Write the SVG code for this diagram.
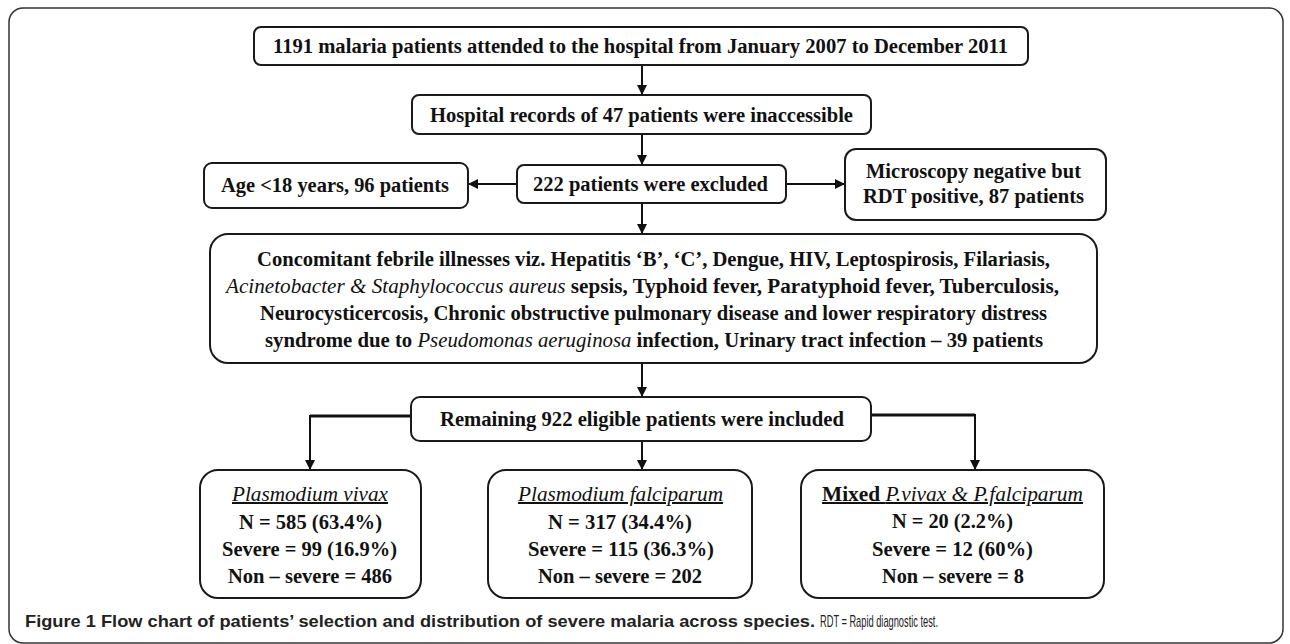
<svg xmlns="http://www.w3.org/2000/svg" width="1290" height="644" viewBox="0 0 1290 644">
<defs>
<marker id="ah" markerWidth="10" markerHeight="10" refX="10" refY="5" orient="auto" markerUnits="userSpaceOnUse">
<path d="M0,0 L10,5 L0,10 z" fill="#111"/>
</marker>
<style>
.box{fill:#fff;stroke:#1a1a1a;stroke-width:2}
.t{font-family:"Liberation Serif","Times New Roman",serif;font-weight:bold;font-size:20px;fill:#111}
.i{font-style:italic;font-weight:normal}
.c{fill:none;stroke:#111;stroke-width:2}
.ch{fill:none;stroke:#111;stroke-width:3}
.cap{font-family:"Liberation Sans",Arial,sans-serif;font-size:17px;fill:#222}
</style>
</defs>
<rect x="9" y="8" width="1274" height="635" rx="14" fill="none" stroke="#333" stroke-width="1.5"/>

<g id="connectors">
<line class="c" x1="642" y1="65" x2="642" y2="95" marker-end="url(#ah)"/>
<line class="c" x1="642" y1="134" x2="642" y2="165" marker-end="url(#ah)"/>
<line class="c" x1="642" y1="203" x2="642" y2="234" marker-end="url(#ah)"/>
<line class="c" x1="517" y1="184" x2="468" y2="184" marker-end="url(#ah)"/>
<line class="c" x1="786" y1="184" x2="845" y2="184" marker-end="url(#ah)"/>
<line class="c" x1="642" y1="363" x2="642" y2="397" marker-end="url(#ah)"/>
<line class="c" x1="642" y1="441" x2="642" y2="470" marker-end="url(#ah)"/>
<polyline class="ch" points="411,416 310,416"/>
<line class="c" x1="310" y1="415" x2="310" y2="470" marker-end="url(#ah)"/>
<polyline class="ch" points="871,415 975,415"/>
<line class="c" x1="975" y1="414" x2="975" y2="470" marker-end="url(#ah)"/>
</g>

<g id="n1">
<rect class="box" x="254" y="27" width="774" height="38" rx="7"/>
<text class="t" x="273" y="53" textLength="735" lengthAdjust="spacingAndGlyphs">1191 malaria patients attended to the hospital from January 2007 to December 2011</text>
</g>
<g id="n2">
<rect class="box" x="412" y="95" width="459" height="39" rx="7"/>
<text class="t" x="430" y="122" textLength="423" lengthAdjust="spacingAndGlyphs">Hospital records of 47 patients were inaccessible</text>
</g>
<g id="n3">
<rect class="box" x="517" y="165" width="269" height="38" rx="7"/>
<text class="t" x="533" y="191" textLength="235" lengthAdjust="spacingAndGlyphs">222 patients were excluded</text>
</g>
<g id="n4">
<rect class="box" x="204" y="163" width="264" height="45" rx="8"/>
<text class="t" x="221" y="192" textLength="228" lengthAdjust="spacingAndGlyphs">Age &lt;18 years, 96 patients</text>
</g>
<g id="n5">
<rect class="box" x="845" y="149" width="261" height="71" rx="11"/>
<text class="t" x="866" y="178" textLength="215" lengthAdjust="spacingAndGlyphs">Microscopy negative but</text>
<text class="t" x="863" y="203" textLength="221" lengthAdjust="spacingAndGlyphs">RDT positive, 87 patients</text>
</g>
<g id="n6">
<rect class="box" x="210" y="234" width="887" height="129" rx="18"/>
<text class="t" x="257" y="266" textLength="793" lengthAdjust="spacingAndGlyphs">Concomitant febrile illnesses viz. Hepatitis ‘B’, ‘C’, Dengue, HIV, Leptospirosis, Filariasis,</text>
<text class="t" x="226" y="293" textLength="833" lengthAdjust="spacingAndGlyphs"><tspan class="i">Acinetobacter &amp; Staphylococcus aureus</tspan> sepsis, Typhoid fever, Paratyphoid fever, Tuberculosis,</text>
<text class="t" x="260" y="320" textLength="787" lengthAdjust="spacingAndGlyphs">Neurocysticercosis, Chronic obstructive pulmonary disease and lower respiratory distress</text>
<text class="t" x="265" y="347" textLength="778" lengthAdjust="spacingAndGlyphs">syndrome due to <tspan class="i">Pseudomonas aeruginosa</tspan> infection, Urinary tract infection – 39 patients</text>
</g>
<g id="n7">
<rect class="box" x="411" y="397" width="460" height="44" rx="9"/>
<text class="t" x="440" y="426" textLength="404" lengthAdjust="spacingAndGlyphs">Remaining 922 eligible patients were included</text>
</g>
<g id="n8">
<rect class="box" x="200" y="470" width="221" height="128" rx="18"/>
<text class="t i" x="232" y="501" textLength="156" lengthAdjust="spacingAndGlyphs" text-decoration="underline">Plasmodium vivax</text>
<text class="t" x="239" y="529" textLength="143" lengthAdjust="spacingAndGlyphs">N = 585 (63.4%)</text>
<text class="t" x="222" y="556" textLength="175" lengthAdjust="spacingAndGlyphs">Severe = 99 (16.9%)</text>
<text class="t" x="228" y="583" textLength="164" lengthAdjust="spacingAndGlyphs">Non – severe = 486</text>
</g>
<g id="n9">
<rect class="box" x="488" y="470" width="264" height="128" rx="18"/>
<text class="t i" x="518" y="501" textLength="205" lengthAdjust="spacingAndGlyphs" text-decoration="underline">Plasmodium falciparum</text>
<text class="t" x="548" y="529" textLength="144" lengthAdjust="spacingAndGlyphs">N = 317 (34.4%)</text>
<text class="t" x="528" y="556" textLength="186" lengthAdjust="spacingAndGlyphs">Severe = 115 (36.3%)</text>
<text class="t" x="538" y="583" textLength="164" lengthAdjust="spacingAndGlyphs">Non – severe = 202</text>
</g>
<g id="n10">
<rect class="box" x="801" y="470" width="303" height="128" rx="18"/>
<text class="t" x="822" y="501" textLength="261" lengthAdjust="spacingAndGlyphs" text-decoration="underline">Mixed <tspan class="i">P.vivax &amp; P.falciparum</tspan></text>
<text class="t" x="892" y="528" textLength="121" lengthAdjust="spacingAndGlyphs">N = 20 (2.2%)</text>
<text class="t" x="872" y="556" textLength="161" lengthAdjust="spacingAndGlyphs">Severe = 12 (60%)</text>
<text class="t" x="882" y="583" textLength="142" lengthAdjust="spacingAndGlyphs">Non – severe = 8</text>
</g>

<g id="caption">
<text class="cap" x="25" y="627" font-weight="bold" textLength="790" lengthAdjust="spacingAndGlyphs">Figure 1 Flow chart of patients’ selection and distribution of severe malaria across species.</text>
<text class="cap" x="820" y="627" textLength="118" lengthAdjust="spacingAndGlyphs">RDT = Rapid diagnostic test.</text>
</g>
</svg>
